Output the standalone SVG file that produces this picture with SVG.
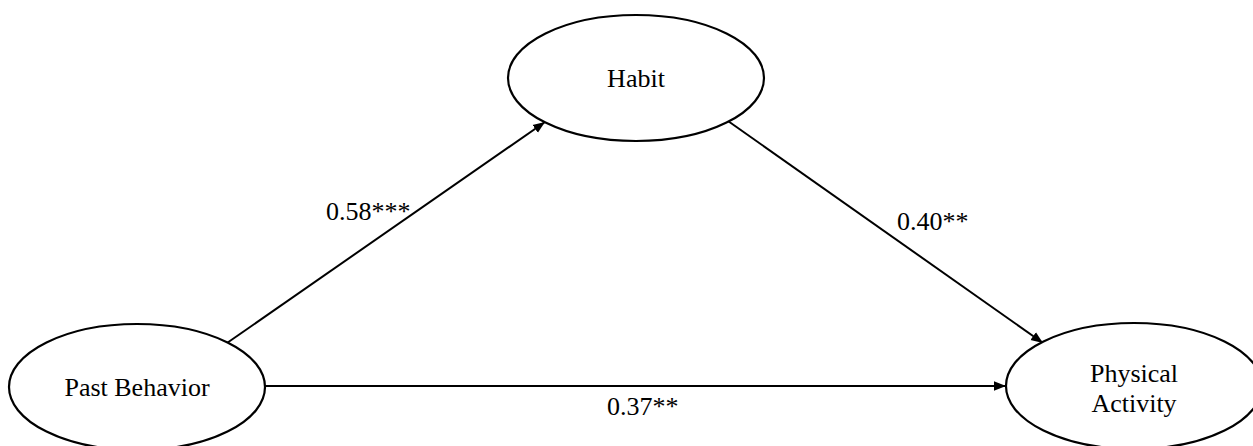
<svg xmlns="http://www.w3.org/2000/svg" width="1253" height="446" viewBox="0 0 1253 446">
<style>
.node ellipse{fill:#fff;stroke:#000;stroke-width:2.2}
text{font-family:"Liberation Serif","Times New Roman",serif;font-size:26px;fill:#000}
.lbl{text-anchor:middle}
.edge{stroke:#000;stroke-width:2;fill:none;marker-end:url(#ah)}
</style>
<defs>
<marker id="ah" viewBox="0 0 10 10" refX="10" refY="5" markerWidth="6" markerHeight="6" markerUnits="strokeWidth" orient="auto">
<path d="M0,1 L10,5 L0,9 z" fill="#000"/>
</marker>
</defs>
<g id="connectors">
<line class="edge" x1="227" y1="343" x2="545" y2="122"/>
<line class="edge" x1="728" y1="121" x2="1043" y2="343"/>
<line class="edge" x1="264" y1="386" x2="1006" y2="386"/>
<text x="326" y="220">0.58***</text>
<text x="897" y="230">0.40**</text>
<text x="607" y="415">0.37**</text>
</g>
<g id="habit" class="node">
<ellipse cx="636" cy="78" rx="128" ry="63"/>
<text class="lbl" x="636" y="87">Habit</text>
</g>
<g id="past-behavior" class="node">
<ellipse cx="137" cy="387" rx="128" ry="63"/>
<text class="lbl" x="137" y="396">Past Behavior</text>
</g>
<g id="physical-activity" class="node">
<ellipse cx="1134" cy="386" rx="128" ry="63"/>
<text class="lbl" x="1134" y="382">Physical</text>
<text class="lbl" x="1134" y="412">Activity</text>
</g>
</svg>
